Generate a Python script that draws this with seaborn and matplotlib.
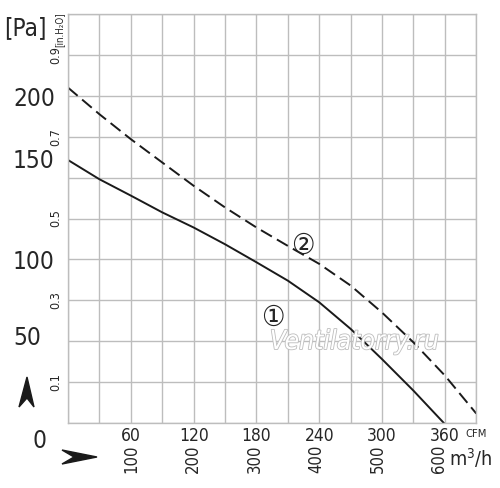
import numpy as np
import pandas as pd
import matplotlib
matplotlib.use("Agg")
import matplotlib.pyplot as plt
import matplotlib.patheffects as pe
from matplotlib.patches import Polygon
import seaborn as sns

# kurva 1 (garis) dan kurva 2 (putus-putus), CFM vs in.H2O
cfm = [0, 30, 60, 90, 120, 150, 180, 210, 240, 270, 300, 330, 359]
p1 = [0.643, 0.596, 0.556, 0.515, 0.478, 0.437, 0.393, 0.348, 0.295, 0.230, 0.156, 0.079, 0.0]
cfm2 = [0, 30, 60, 90, 120, 150, 180, 210, 240, 270, 300, 330, 360, 390]
p2 = [0.820, 0.755, 0.694, 0.637, 0.580, 0.527, 0.478, 0.433, 0.389, 0.336, 0.270, 0.197, 0.116, 0.023]

cfm_ticks = [60, 120, 180, 240, 300, 360]
inh2o_ticks = [0.1, 0.3, 0.5, 0.7, 0.9]
m3h_ticks = [100, 200, 300, 400, 500, 600]
pa_labels = ["200", "150", "100", "50", "0"]
pa_pos = [(13, 99), (13, 161), (13, 262), (13, 338), (33, 441)]  # pixel

sns.set_style("white")
plt.rcParams["font.family"] = ["DejaVu Sans"]
plt.rcParams["font.stretch"] = "condensed"

W, H = 500, 488
fig = plt.figure(figsize=(W / 100, H / 100), dpi=100)
ax = fig.add_axes([68 / W, 1 - 423 / H, 408.3 / W, 409 / H])

df1 = pd.DataFrame({"cfm": cfm, "p": p1})
df2 = pd.DataFrame({"cfm": cfm2, "p": p2})
sns.lineplot(data=df1, x="cfm", y="p", color="#1a1a1a", lw=1.4, ax=ax)
sns.lineplot(data=df2, x="cfm", y="p", color="#1a1a1a", lw=1.4, ax=ax,
             linestyle=(0, (6.5, 3)))

ax.set_xlim(0, 390)
ax.set_ylim(0, 1.0)
xt = np.arange(0, 391, 30)
ax.set_xticks(xt)
ax.set_xticklabels([str(v) if v in cfm_ticks else "" for v in xt], fontsize=12.5)
yt = np.round(np.arange(0, 1.01, 0.1), 1)
ax.set_yticks(yt)
ax.set_yticklabels([str(v) if v in inh2o_ticks else "" for v in yt],
                   rotation=90, va="center", fontsize=9)
ax.tick_params(length=0, pad=4)
ax.tick_params(axis="x", pad=3)
ax.set_xlabel("")
ax.set_ylabel("")
ax.grid(True, color="#bdbdbd", lw=1)
for s in ax.spines.values():
    s.set_color("#bdbdbd")
    s.set_linewidth(1)

# label m3/h (diputar)
for v in m3h_ticks:
    ax.text(v / 1.699 + 1.5, -0.087, str(v), rotation=90, ha="center", va="center",
            fontsize=12, transform=ax.get_xaxis_transform())

# label kurva
circ = ["DejaVu Serif", "DejaVu Sans", "Noto Sans CJK JP"]
ax.text(196, 0.258, "①", fontsize=21, ha="center", va="center", family=circ)
ax.text(224.5, 0.434, "②", fontsize=21, ha="center", va="center", family=circ)

# watermark
ax.text(0.701, 0.198, "Ventilatorry.ru", transform=ax.transAxes, fontsize=19,
        style="italic", ha="center", va="center", color="white",
        path_effects=[pe.withStroke(linewidth=1.2, foreground="#bdbdbd")])

# label Pa dan satuan
fig.text(25 / W, 1 - 28 / H, "[Pa]", fontsize=17.5, ha="center", va="center")
for lab, (px, py) in zip(pa_labels, pa_pos):
    fig.text(px / W, 1 - py / H, lab, fontsize=17.5, ha="left", va="center")
fig.text(59 / W, 1 - 30 / H, "[in.H₂O]", fontsize=7, rotation=90,
         ha="center", va="center")
fig.text(476 / W, 1 - 434 / H, "CFM", fontsize=8, ha="center", va="center")
fig.text(471 / W, 1 - 458 / H, "m$^3$/h", fontsize=14, ha="center", va="center")

# panah
def px2fig(pts):
    return [(x / W, 1 - y / H) for x, y in pts]

fig.patches.append(Polygon(px2fig([(27, 377), (19, 407), (27, 398), (34, 407)]),
                           closed=True, color="#1a1a1a", transform=fig.transFigure))
fig.patches.append(Polygon(px2fig([(97, 457), (62, 450), (74, 457), (62, 464)]),
                           closed=True, color="#1a1a1a", transform=fig.transFigure))

fig.savefig("out.png", dpi=100)
